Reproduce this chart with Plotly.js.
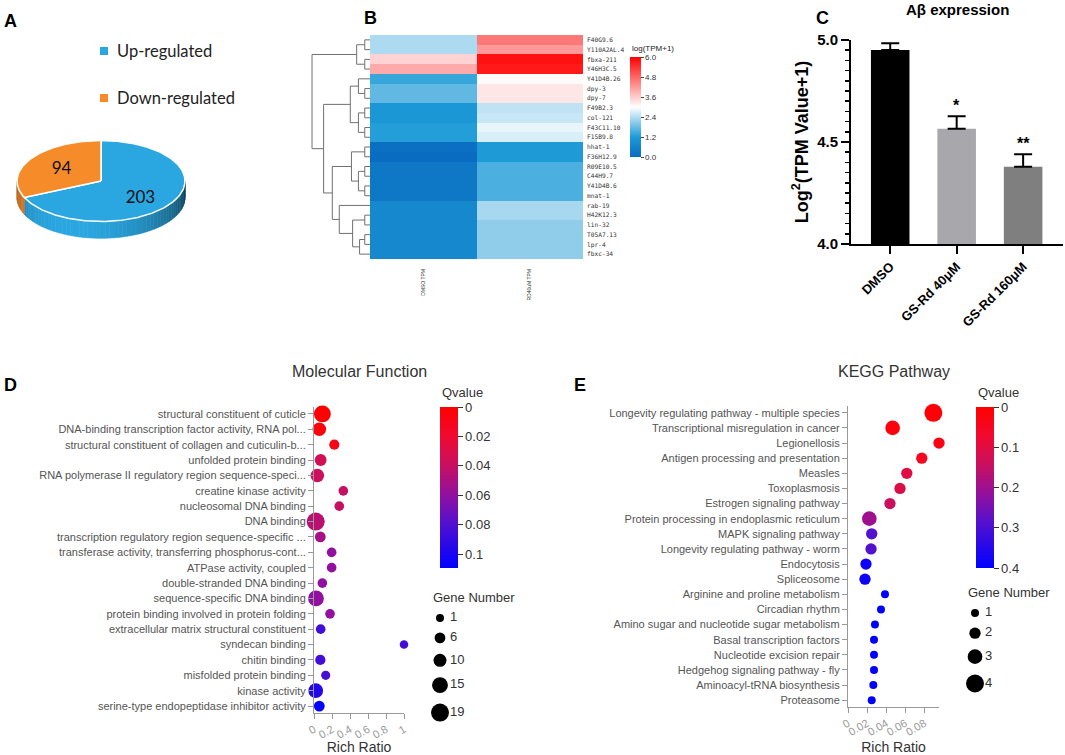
<!DOCTYPE html>
<html><head><meta charset="utf-8">
<script src="https://cdn.plot.ly/plotly-3.0.1.min.js"></script>
<style>html,body{margin:0;padding:0;background:#fff}#chart{width:1065px;height:755px}</style>
</head><body><div id="chart"></div>
<script>
// ================= DATA =================
// Panel A
const pieLabels = ['Up-regulated', 'Down-regulated'];
const pieValues = [203, 94];
// Panel B
const heatGenes = ['F40G9.6','Y110A2AL.4','fbxa-211','Y46H3C.5','Y41D4B.26','dpy-3','dpy-7','F49B2.3','col-121','F43C11.10','F15B9.8','hhat-1','F36H12.9','R09E10.5','C44H9.7','Y41D4B.6','mnat-1','rab-19','H42K12.3','lin-32','T05A7.13','lpr-4','fbxc-34'];
const heatSamples = ['DMSO TPM', 'RD40uM TPM'];
const heatDMSO = [2.34, 2.34, 3.52, 4.0, 1.4, 1.73, 1.73, 1.1, 1.1, 1.25, 1.25, 0.1, 0.0, 0.3, 0.3, 0.3, 0.3, 0.72, 0.72, 0.72, 0.72, 0.72, 0.72];
const heatRD = [4.59, 4.2, 5.8, 5.7, 3.05, 3.3, 3.3, 2.49, 2.56, 2.82, 2.69, 1.2, 1.2, 1.56, 1.56, 1.56, 1.56, 2.3, 2.3, 2.1, 2.1, 2.1, 2.1];
const heatTicks = [0, 1.2, 2.4, 3.6, 4.8, 6.0];
// dendrogram merges: [child A, child B, height]; leaves are 0..22, new clusters 23..
const dendroMerges = [
  [0,1,0.9],[2,3,0.9],[23,24,2.3],
  [5,6,0.9],[4,26,2.0],[7,8,0.9],[9,10,0.9],[28,29,2.0],[27,30,3.4],
  [11,12,0.9],[13,14,0.9],[15,16,0.9],[33,34,2.0],[32,35,3.2],
  [18,19,0.9],[20,21,0.9],[38,22,1.8],[37,39,3.0],[17,40,5.3],
  [36,41,6.5],[31,42,8.0],[25,43,10.0]
];
// Panel C
const barGroups = ['DMSO', 'GS-Rd 40μM', 'GS-Rd 160μM'];
const barValues = [4.951, 4.565, 4.379];
const barErrors = [0.033, 0.061, 0.061];
const barSig = ['', '*', '**'];
// Panel D
const mfTerms = ['structural constituent of cuticle','DNA-binding transcription factor activity, RNA pol...','structural constituent of collagen and cuticulin-b...','unfolded protein binding','RNA polymerase II regulatory region sequence-speci...','creatine kinase activity','nucleosomal DNA binding','DNA binding','transcription regulatory region sequence-specific ...','transferase activity, transferring phosphorus-cont...','ATPase activity, coupled','double-stranded DNA binding','sequence-specific DNA binding','protein binding involved in protein folding','extracellular matrix structural constituent','syndecan binding','chitin binding','misfolded protein binding','kinase activity','serine-type endopeptidase inhibitor activity'];
const mfRich = [0.093, 0.059, 0.226, 0.074, 0.037, 0.326, 0.281, 0.019, 0.07, 0.196, 0.196, 0.093, 0.022, 0.178, 0.074, 1.0, 0.07, 0.13, 0.019, 0.059];
const mfGenes = [17, 11, 5, 8, 11, 4, 4, 19, 6, 4, 4, 4, 15, 4, 4, 2, 5, 3, 13, 6];
const mfQ = [0.002, 0.005, 0.01, 0.035, 0.038, 0.04, 0.04, 0.045, 0.052, 0.06, 0.06, 0.06, 0.06, 0.06, 0.085, 0.085, 0.085, 0.083, 0.097, 0.108];
const mfLegendGenes = [1, 6, 10, 15, 19];
const mfQTicks = [0, 0.02, 0.04, 0.06, 0.08, 0.1];
// Panel E
const keggTerms = ['Longevity regulating pathway - multiple species','Transcriptional misregulation in cancer','Legionellosis','Antigen processing and presentation','Measles','Toxoplasmosis','Estrogen signaling pathway','Protein processing in endoplasmic reticulum','MAPK signaling pathway','Longevity regulating pathway - worm','Endocytosis','Spliceosome','Arginine and proline metabolism','Circadian rhythm','Amino sugar and nucleotide sugar metabolism','Basal transcription factors','Nucleotide excision repair','Hedgehog signaling pathway - fly','Aminoacyl-tRNA biosynthesis','Proteasome'];
const keggRich = [0.0893, 0.0467, 0.0952, 0.0772, 0.0615, 0.0544, 0.0439, 0.0223, 0.0248, 0.0241, 0.0188, 0.0178, 0.0387, 0.0345, 0.0282, 0.0272, 0.0272, 0.0272, 0.0265, 0.0248];
const keggGenes = [4, 3, 2, 2, 2, 2, 2, 3, 2, 2, 2, 2, 1, 1, 1, 1, 1, 1, 1, 1];
const keggQ = [0.01, 0.02, 0.03, 0.05, 0.1, 0.11, 0.14, 0.2, 0.29, 0.29, 0.38, 0.38, 0.4, 0.4, 0.4, 0.4, 0.4, 0.4, 0.4, 0.4];
const keggLegendGenes = [1, 2, 3, 4];
const keggQTicks = [0, 0.1, 0.2, 0.3, 0.4];

// ================= HELPERS =================
const W = 1065, H = 755;
const fx = p => p / W;
const fy = p => 1 - p / H;
const domX = (a, b) => [a / W, b / W];
const domY = (top, bottom) => [1 - bottom / H, 1 - top / H];
const FONT = 'Liberation Sans, Arial, sans-serif';
const traces = [];
const annotations = [];
const shapes = [];
const hidden = {visible: false, showgrid: false, zeroline: false, fixedrange: true};
const note = (x, y, text, font, xanchor) => annotations.push({xref: 'paper', yref: 'paper', x: fx(x), y: fy(y),
  xanchor: xanchor || 'center', yanchor: 'middle', showarrow: false, text: text, font: font});

// ================= PANEL A (3D-style pie) =================
const pieColors = ['#2aa7e1', '#f68b2a'];
const pieRGB = [[42, 167, 225], [246, 139, 42]];
const RX = 1, RY = 0.482, DEPTH = 0.2;
const rad = d => d * Math.PI / 180;
const pieTotal = pieValues.reduce((a, b) => a + b, 0);
const sliceAng = [];
let startA = 90;
[1, 0].forEach(i => { const sw = 360 * pieValues[i] / pieTotal; sliceAng[i] = [startA, startA + sw]; startA += sw; });
const ex = d => RX * Math.cos(rad(d));
const ey = (d, dz) => RY * Math.sin(rad(d)) - (dz || 0);
function shade(rgb, d) {
  const k = 0.55 + 0.45 * Math.cos(rad(d - 250));
  return 'rgb(' + rgb.map(c => Math.round(c * k)).join(',') + ')';
}
// side walls (front half only)
pieValues.forEach((v, i) => {
  const [s, e] = sliceAng[i];
  [[180, 360], [540, 720]].forEach(([lo, hi]) => {
    const a0 = Math.max(s, lo), a1 = Math.min(e, hi);
    if (a1 <= a0) return;
    const step = 3;
    for (let t = a0; t < a1; t += step) {
      const t2 = Math.min(t + step, a1);
      const c = shade(pieRGB[i], (t + t2) / 2);
      traces.push({type: 'scatter', mode: 'lines', xaxis: 'x', yaxis: 'y', hoverinfo: 'skip', showlegend: false,
        x: [ex(t), ex(t2), ex(t2), ex(t), ex(t)], y: [ey(t), ey(t2), ey(t2, DEPTH), ey(t, DEPTH), ey(t)],
        fill: 'toself', fillcolor: c, line: {color: c, width: 0.6}});
    }
  });
});
// top faces
pieValues.forEach((v, i) => {
  const [s, e] = sliceAng[i];
  const xs = [0], ys = [0];
  for (let t = s; t <= e + 0.001; t += 1) { xs.push(ex(Math.min(t, e))); ys.push(ey(Math.min(t, e))); }
  xs.push(ex(e)); ys.push(ey(e)); xs.push(0); ys.push(0);
  traces.push({type: 'scatter', mode: 'lines', xaxis: 'x', yaxis: 'y', hoverinfo: 'skip', showlegend: false,
    x: xs, y: ys, fill: 'toself', fillcolor: pieColors[i], line: {color: '#ffffff', width: 1.5}});
});
// value labels
traces.push({type: 'scatter', mode: 'text', xaxis: 'x', yaxis: 'y', hoverinfo: 'skip', showlegend: false,
  x: pieValues.map((v, i) => 0.56 * ex((sliceAng[i][0] + sliceAng[i][1]) / 2)),
  y: pieValues.map((v, i) => 0.66 * ey((sliceAng[i][0] + sliceAng[i][1]) / 2) - 0.035),
  text: pieValues.map(String), textfont: {family: 'Lato, Open Sans, sans-serif', size: 17, color: '#111'}});
// legend for A
pieLabels.forEach((lab, i) => {
  const yc = i === 0 ? 51 : 98;
  shapes.push({type: 'rect', xref: 'paper', yref: 'paper', x0: fx(100), x1: fx(108), y0: fy(yc + 4), y1: fy(yc - 4), fillcolor: pieColors[i], line: {width: 0}});
  note(115, yc, lab, {family: 'Lato, Open Sans, sans-serif', size: 16.5, color: '#222'}, 'left');
});

// ================= PANEL B (heatmap + dendrogram) =================
traces.push({type: 'heatmap', xaxis: 'x2', yaxis: 'y2', hoverinfo: 'skip',
  x: heatSamples, y: heatGenes, z: heatGenes.map((g, i) => [heatDMSO[i], heatRD[i]]),
  zmin: 0, zmax: 6,
  colorscale: [[0, '#0a6cc0'], [0.2, '#1e9bd7'], [0.5, '#ffffff'], [1, '#ff0000']],
  colorbar: {x: fx(630), xanchor: 'left', y: fy(57), yanchor: 'top', len: 100, lenmode: 'pixels',
    thickness: 11, thicknessmode: 'pixels', xpad: 0, ypad: 0, outlinewidth: 0,
    ticks: 'outside', ticklen: 3, tickcolor: '#444',
    tickvals: heatTicks, ticktext: heatTicks.map(v => v.toFixed(1)),
    tickfont: {family: FONT, size: 8, color: '#333'}}
});
note(630, 49, 'log(TPM+1)', {family: FONT, size: 8, color: '#222'}, 'left');
// dendrogram from merge list
const nodePos = {};
heatGenes.forEach((g, i) => { nodePos[i] = {x: 0, y: i}; });
const dX = [], dY = [];
dendroMerges.forEach((m, k) => {
  const a = nodePos[m[0]], b = nodePos[m[1]], h = m[2];
  dX.push(a.x, h, h, b.x, null); dY.push(a.y, a.y, b.y, b.y, null);
  nodePos[heatGenes.length + k] = {x: h, y: (a.y + b.y) / 2};
});
traces.push({type: 'scatter', mode: 'lines', xaxis: 'x3', yaxis: 'y3', hoverinfo: 'skip', showlegend: false,
  x: dX, y: dY, line: {color: '#707070', width: 1}});

// ================= PANEL C (bar) =================
traces.push({type: 'bar', xaxis: 'x4', yaxis: 'y4', hoverinfo: 'skip', showlegend: false,
  x: barGroups, y: barValues, width: 0.58,
  marker: {color: ['#000000', '#a7a7ac', '#7f7f7f'], line: {width: 0}},
  error_y: {type: 'data', symmetric: false, array: barErrors, arrayminus: barErrors.map(() => 0),
    color: '#000', thickness: 2, width: 9}});
barSig.forEach((s, i) => {
  if (!s) return;
  annotations.push({xref: 'x4', yref: 'y4', x: barGroups[i], y: barValues[i] + barErrors[i], yanchor: 'bottom', yshift: 0,
    showarrow: false, text: s, font: {family: FONT, size: 16, color: '#000', weight: 'bold'}});
});
note(957, 9, 'Aβ expression', {family: FONT, size: 15, color: '#000', weight: 'bold'});

// ================= Bubble panels (D, E) =================
const qScale = [[0, '#0000ff'], [0.27, '#5010d0'], [0.45, '#9010a0'], [0.64, '#c81060'], [0.82, '#f00a30'], [1, '#ff0000']];
const sizeOf = (n, arr) => { const mn = Math.min(...arr), mx = Math.max(...arr); return 8 + 10 * (n - mn) / (mx - mn); };

function bubblePanel(xa, ya, terms, rich, genes, q, qmax, qTicks, cbLeft, legendGenes, lgAxX, lgAxY) {
  traces.push({type: 'scatter', mode: 'markers', xaxis: xa, yaxis: ya, hoverinfo: 'skip', showlegend: false, cliponaxis: false,
    x: rich, y: terms,
    marker: {size: genes.map(n => sizeOf(n, legendGenes)), sizemode: 'diameter', line: {width: 0}, opacity: 1,
      color: q.map(v => -v), cmin: -qmax, cmax: 0, colorscale: qScale,
      colorbar: {x: fx(cbLeft), xanchor: 'left', y: fy(407), yanchor: 'top', len: 161, lenmode: 'pixels',
        thickness: 18, thicknessmode: 'pixels', xpad: 0, ypad: 0, outlinewidth: 0,
        ticks: 'outside', ticklen: 5, tickcolor: '#333',
        tickvals: qTicks.map(v => -v), ticktext: qTicks.map(String),
        tickfont: {family: FONT, size: 13, color: '#333'}}}});
  note(cbLeft, 392, 'Qvalue', {family: FONT, size: 13, color: '#333'}, 'left');
  // gene-number size legend
  const ls = legendGenes.map(n => sizeOf(n, legendGenes));
  const ly = [0];
  for (let i = 1; i < ls.length; i++) ly.push(ly[i - 1] + (ls[i - 1] + ls[i]) / 2 + 10.5);
  traces.push({type: 'scatter', mode: 'markers', xaxis: lgAxX, yaxis: lgAxY, hoverinfo: 'skip', showlegend: false, cliponaxis: false,
    x: legendGenes.map(() => 10), y: ly, marker: {size: ls, sizemode: 'diameter', color: '#000', opacity: 1, line: {width: 0}}});
  traces.push({type: 'scatter', mode: 'text', xaxis: lgAxX, yaxis: lgAxY, hoverinfo: 'skip', showlegend: false, cliponaxis: false,
    x: legendGenes.map(() => 20), y: ly, text: legendGenes.map(String), textposition: 'middle right',
    textfont: {family: FONT, size: 13, color: '#333'}});
}
bubblePanel('x5', 'y5', mfTerms, mfRich, mfGenes, mfQ, 0.1095, mfQTicks, 440, mfLegendGenes, 'x6', 'y6');
bubblePanel('x7', 'y7', keggTerms, keggRich, keggGenes, keggQ, 0.4, keggQTicks, 976, keggLegendGenes, 'x8', 'y8');

note(359, 372, 'Molecular Function', {family: FONT, size: 16, color: '#333'});
note(893.5, 372, 'KEGG Pathway', {family: FONT, size: 16, color: '#333'});
note(431, 597, 'Gene Number', {family: FONT, size: 13, color: '#333'}, 'left');
note(966, 592, 'Gene Number', {family: FONT, size: 13, color: '#333'}, 'left');

// panel letters
[['A', 10, 21], ['B', 370, 18], ['C', 822, 18], ['D', 10, 385], ['E', 580, 385]].forEach(([t, x, y]) => {
  note(x, y, t, {family: FONT, size: 18, color: '#000', weight: 'bold'});
});

// ================= LAYOUT =================
const bubbleY = (dom) => ({domain: dom, type: 'category', range: [19.45, -0.45], showgrid: false, zeroline: false,
  showline: true, linecolor: '#999', linewidth: 1, ticks: 'outside', ticklen: 5, tickcolor: '#999',
  tickfont: {family: FONT, size: 11, color: '#555'}, fixedrange: true});
const bubbleX = (dom, rng, dt) => ({domain: dom, range: rng, dtick: dt, tick0: 0, tickangle: -30, showgrid: false, zeroline: false,
  showline: true, linecolor: '#999', linewidth: 1, ticks: 'outside', ticklen: 5, tickcolor: '#999',
  tickfont: {family: FONT, size: 11, color: '#999'},
  title: {text: 'Rich Ratio', standoff: 8, font: {family: FONT, size: 14, color: '#333'}}, fixedrange: true});

const layout = {
  width: W, height: H, margin: {l: 0, r: 0, t: 0, b: 0}, paper_bgcolor: '#fff', plot_bgcolor: 'rgba(0,0,0,0)',
  showlegend: false, hovermode: false, font: {family: FONT},
  // A
  xaxis: Object.assign({domain: domX(0, 210), range: [-101 / 84, 109 / 84], anchor: 'y'}, hidden),
  yaxis: Object.assign({domain: domY(130, 250), range: [-(250 - 181) / 84, (181 - 130) / 84], anchor: 'x'}, hidden),
  // B heatmap
  xaxis2: {domain: domX(370, 583), anchor: 'y2', type: 'category', tickangle: -90, ticks: '', showline: false, showgrid: false, zeroline: false,
    ticklabelstandoff: 8, tickfont: {family: FONT, size: 5, color: '#333'}, fixedrange: true},
  yaxis2: {domain: domY(35, 259), anchor: 'x2', type: 'category', autorange: 'reversed', side: 'right', ticks: '', showline: false,
    showgrid: false, zeroline: false, ticklabelstandoff: 3, tickfont: {family: 'DejaVu Sans Mono, monospace', size: 6.2, color: '#333'}, fixedrange: true},
  // B dendrogram
  xaxis3: Object.assign({domain: domX(310, 370), range: [10.35, 0], anchor: 'y3'}, hidden),
  yaxis3: Object.assign({domain: domY(35, 259), range: [heatGenes.length - 0.5, -0.5], anchor: 'x3'}, hidden),
  // C bar
  xaxis4: {domain: domX(851, 1063), anchor: 'y4', type: 'category', range: [-0.59, 2.6], showline: true, linecolor: '#000', linewidth: 2,
    ticks: 'outside', ticklen: 8, tickwidth: 2, tickcolor: '#000', tickangle: -45, showgrid: false, zeroline: false,
    tickfont: {family: FONT, size: 13, color: '#000', weight: 'bold'}, fixedrange: true},
  yaxis4: {domain: domY(40, 244), anchor: 'x4', range: [4, 5], tickvals: [4, 4.5, 5], ticktext: ['4.0', '4.5', '5.0'],
    showline: true, linecolor: '#000', linewidth: 2, ticks: 'outside', ticklen: 8, tickwidth: 2, tickcolor: '#000',
    minor: {dtick: 0.05, ticks: 'outside', ticklen: 4, tickwidth: 1.5, tickcolor: '#000'},
    showgrid: false, zeroline: false, tickfont: {family: FONT, size: 15, color: '#000', weight: 'bold'},
    title: {text: 'Log<sup>2</sup>(TPM Value+1)', standoff: 4, font: {family: FONT, size: 18, color: '#000', weight: 'bold'}}, fixedrange: true},
  // D
  xaxis5: Object.assign(bubbleX(domX(314, 404), [0, Math.max(...mfRich)], 0.2), {anchor: 'y5'}),
  yaxis5: Object.assign(bubbleY(domY(407, 713)), {anchor: 'x5'}),
  xaxis6: Object.assign({domain: domX(430, 530), range: [0, 100], anchor: 'y6'}, hidden),
  yaxis6: Object.assign({domain: domY(608, 728), range: [110, -10], anchor: 'x6'}, hidden),
  // E
  xaxis7: Object.assign(bubbleX(domX(848, 939), [0, Math.max(...keggRich)], 0.02), {anchor: 'y7'}),
  yaxis7: Object.assign(bubbleY(domY(406, 707)), {anchor: 'x7'}),
  xaxis8: Object.assign({domain: domX(965, 1065), range: [0, 100], anchor: 'y8'}, hidden),
  yaxis8: Object.assign({domain: domY(603, 723), range: [110, -10], anchor: 'x8'}, hidden),
  annotations: annotations,
  shapes: shapes
};

Plotly.newPlot('chart', traces, layout, {staticPlot: true, displayModeBar: false});
</script>
</body></html>
